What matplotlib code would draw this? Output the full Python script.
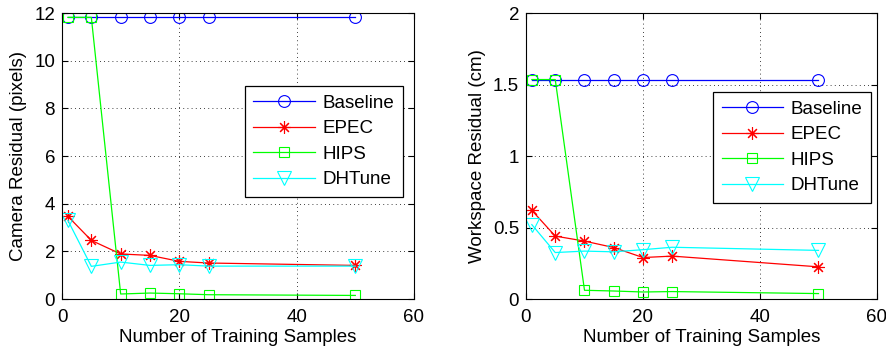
import matplotlib
matplotlib.use("Agg")
import matplotlib.pyplot as plt

plt.rcParams['font.family'] = ['Liberation Sans', 'DejaVu Sans']

# training samples
n_samples = [1, 5, 10, 15, 20, 25, 50]

# camera residual (pixels)
cam_baseline = [11.82, 11.82, 11.82, 11.82, 11.82, 11.82, 11.82]
cam_epec     = [3.47, 2.46, 1.89, 1.83, 1.58, 1.51, 1.41]
cam_hips     = [11.82, 11.82, 0.21, 0.25, 0.22, 0.18, 0.15]
cam_dhtune   = [3.30, 1.37, 1.55, 1.41, 1.44, 1.38, 1.38]

# workspace residual (cm)
ws_baseline = [1.535, 1.535, 1.535, 1.535, 1.535, 1.535, 1.535]
ws_epec     = [0.62, 0.44, 0.405, 0.36, 0.29, 0.30, 0.225]
ws_hips     = [1.535, 1.535, 0.061, 0.056, 0.049, 0.052, 0.038]
ws_dhtune   = [0.52, 0.325, 0.335, 0.33, 0.345, 0.362, 0.34]

series_names = ['Baseline', 'EPEC', 'HIPS', 'DHTune']
colores = ['#0000ff', '#ff0000', '#00ff00', '#00ffff']
marcadores = ['o', (8, 2, 0), 's', 'v']
msizes = [8.5, 9, 7.5, 9.5]

FS = 13.5

fig = plt.figure(figsize=(8.87, 3.5), dpi=100)
ax1 = fig.add_axes([0.0699, 0.1457, 0.3968, 0.817])
ax2 = fig.add_axes([0.593, 0.1457, 0.3957, 0.817])


def dibujar(ax, datos, ylim, yticks, ylabel, ytlabels):
    for y, nombre, col, mk, ms in zip(datos, series_names, colores, marcadores, msizes):
        ax.plot(n_samples, y, color=col, marker=mk, markersize=ms,
                markerfacecolor='none', markeredgecolor=col, markeredgewidth=0.8,
                linewidth=0.9, label=nombre)
    ax.set_xlim(0, 60)
    ax.set_ylim(*ylim)
    ax.set_xticks([0, 20, 40, 60])
    ax.set_yticks(yticks)
    ax.set_yticklabels(ytlabels)
    ax.grid(True, color='black', linestyle=(0, (1, 4)), linewidth=0.6)
    ax.tick_params(direction='in', length=4, labelsize=FS, top=True, right=True, pad=5)
    ax.tick_params(axis='x', pad=7)
    for sp in ax.spines.values():
        sp.set_linewidth(0.8)
    ax.set_xlabel('Number of Training Samples', fontsize=FS, labelpad=2)
    ax.set_ylabel(ylabel, fontsize=FS, labelpad=5)


dibujar(ax1, [cam_baseline, cam_epec, cam_hips, cam_dhtune], (0, 12),
        [0, 2, 4, 6, 8, 10, 12], 'Camera Residual (pixels)',
        ['0', '2', '4', '6', '8', '10', '12'])
dibujar(ax2, [ws_baseline, ws_epec, ws_hips, ws_dhtune], (0, 2),
        [0, 0.5, 1, 1.5, 2], 'Workspace Residual (cm)',
        ['0', '0.5', '1', '1.5', '2'])

for ax, anchor in [(ax1, (0.52, 0.745)), (ax2, (0.533, 0.724))]:
    leg = ax.legend(loc='upper left', bbox_to_anchor=anchor, fontsize=FS,
                    handlelength=3.3, fancybox=False, framealpha=1,
                    edgecolor='black', borderpad=0.45, labelspacing=0.45,
                    handletextpad=0.4, borderaxespad=0)
    leg.get_frame().set_linewidth(0.9)

fig.savefig('out.png', dpi=100)
